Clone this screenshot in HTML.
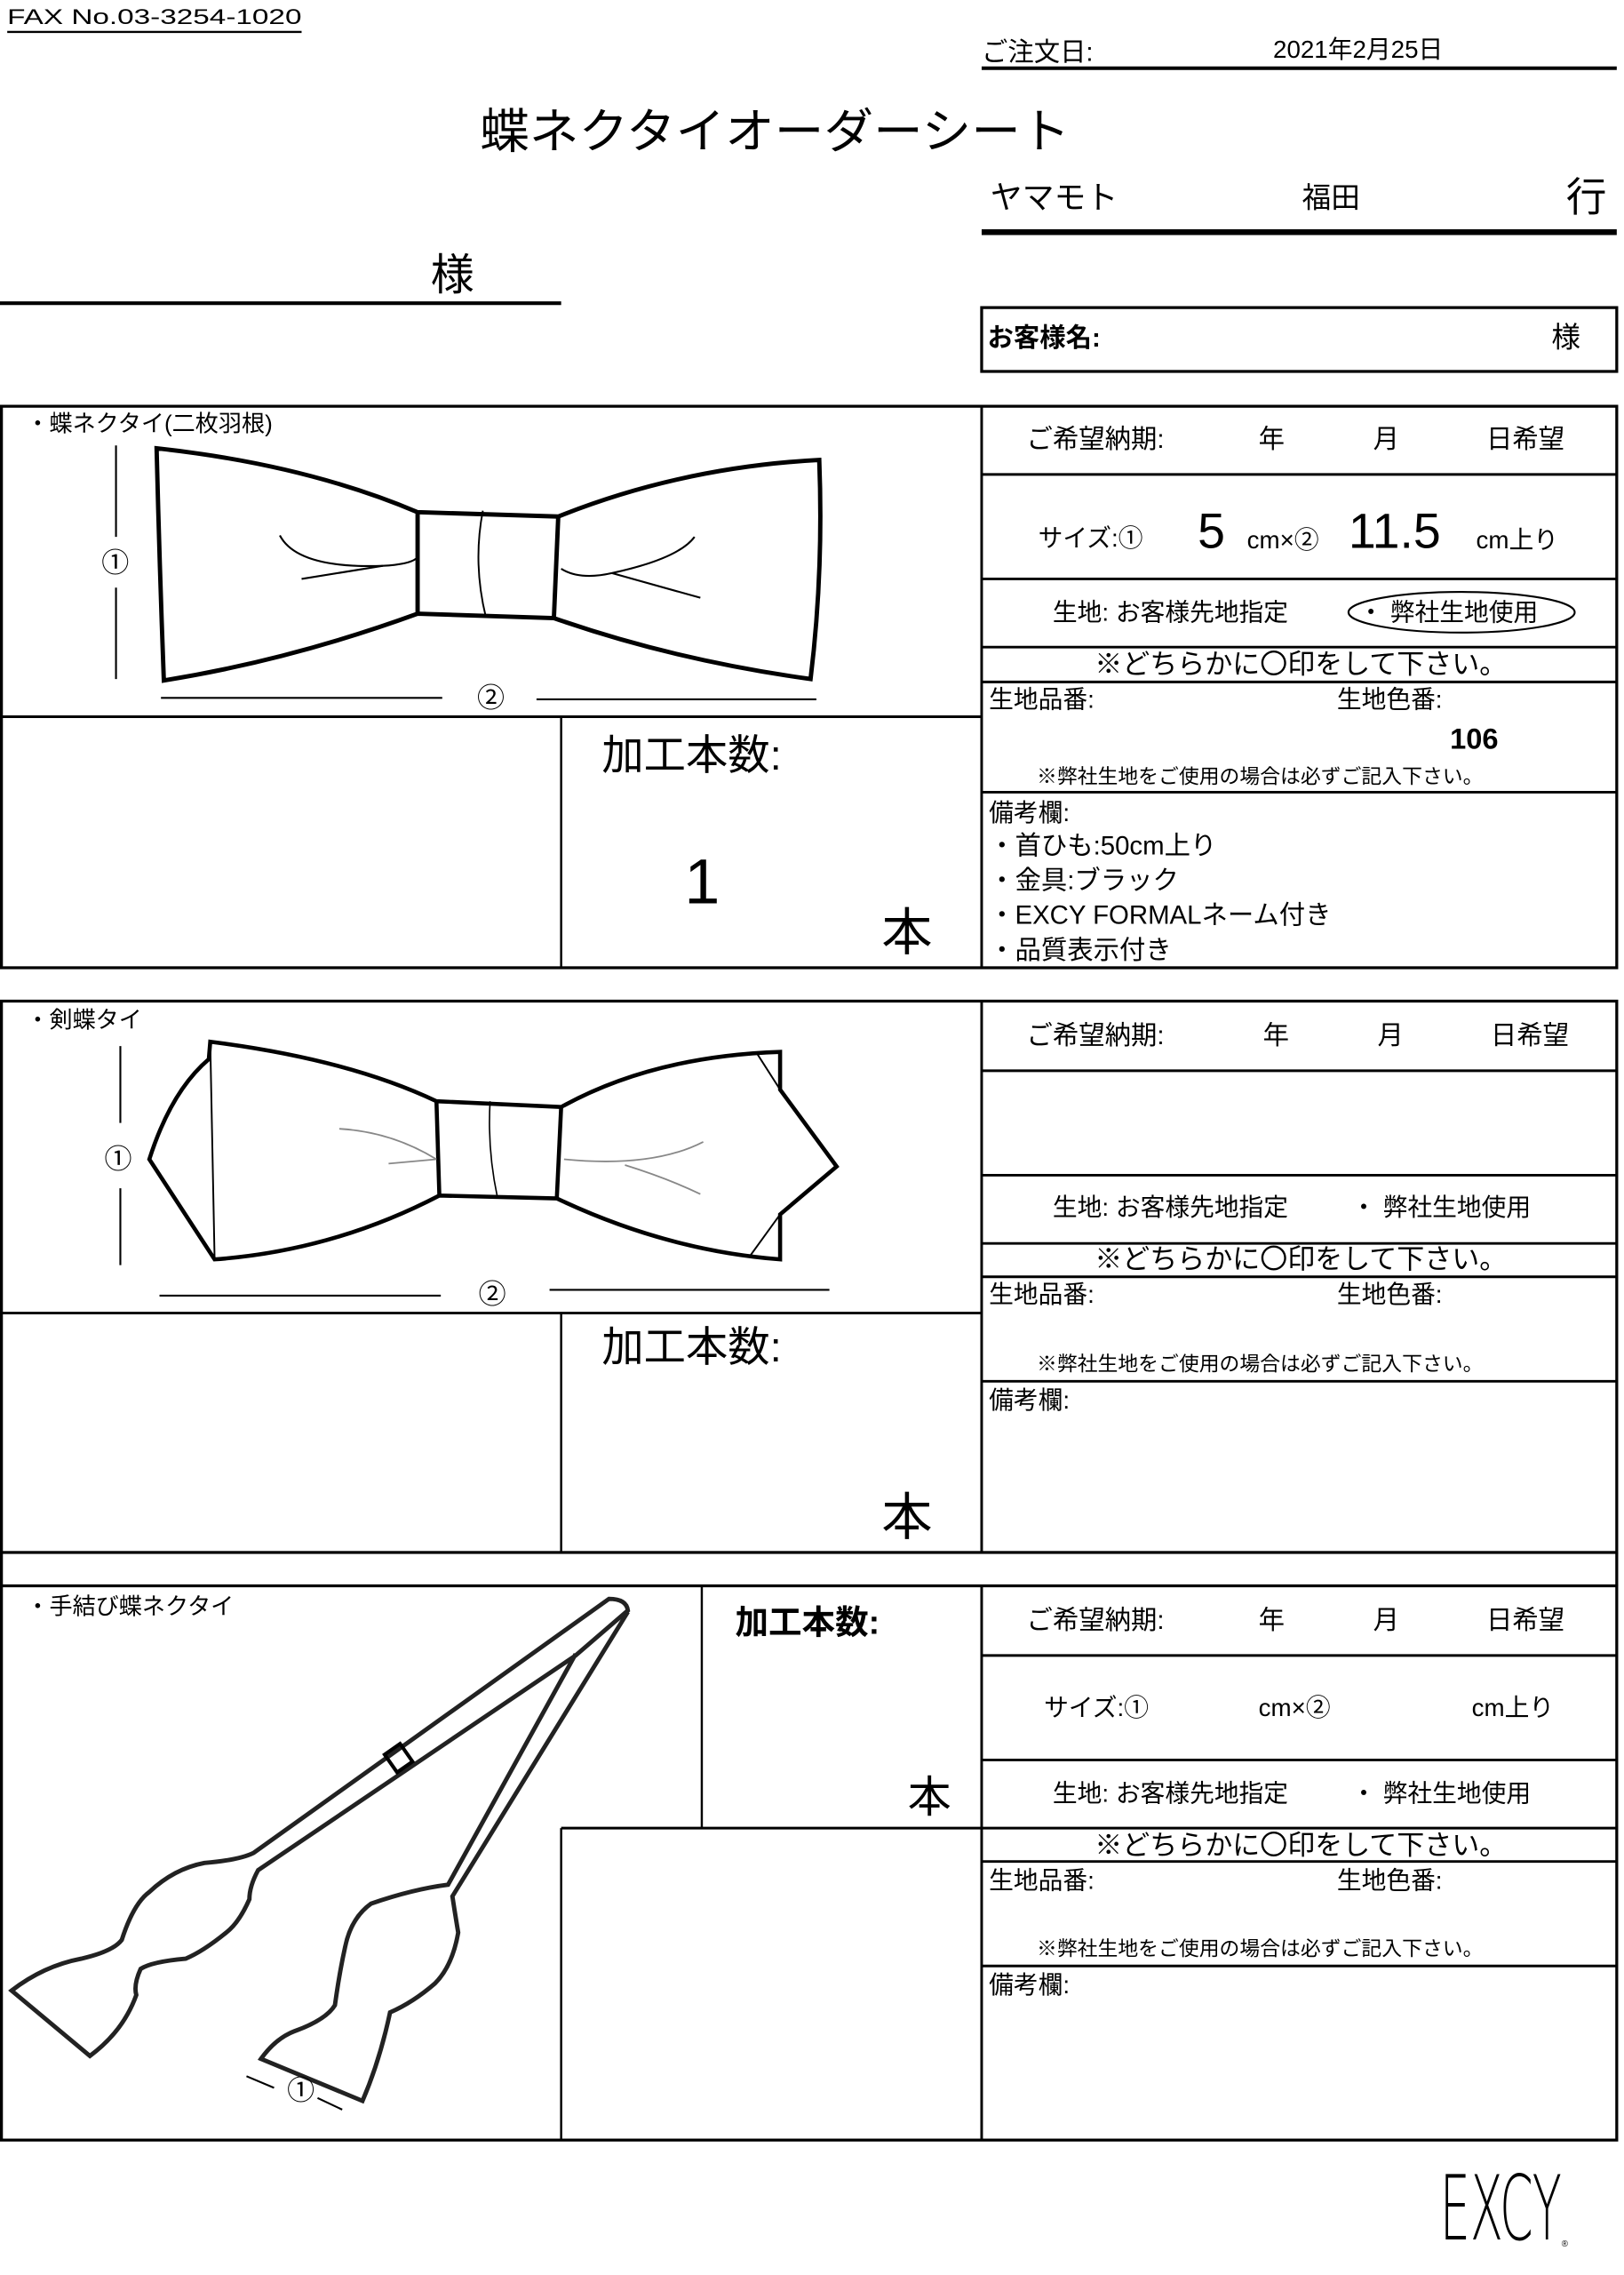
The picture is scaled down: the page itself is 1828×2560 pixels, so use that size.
<!DOCTYPE html>
<html><head><meta charset="utf-8"><style>
html,body{margin:0;padding:0;background:#fff}
svg{display:block}
text{font-family:"Liberation Sans","Noto Sans CJK JP",sans-serif;fill:#000;dominant-baseline:central}
</style></head><body>
<svg width="1828" height="2560" viewBox="0 0 1120 1568" preserveAspectRatio="none" xmlns="http://www.w3.org/2000/svg">
<g fill="none" stroke="#000">
<!-- header -->
<line x1="5" y1="22" x2="208" y2="22" stroke-width="1.5"/>
<line x1="677" y1="47" x2="1115" y2="47" stroke-width="2.5"/>
<line x1="677" y1="160" x2="1115" y2="160" stroke-width="4"/>
<line x1="0" y1="209" x2="387" y2="209" stroke-width="2.5"/>
<rect x="677" y="212" width="438" height="44" stroke-width="2"/>
<!-- section 1 -->
<rect x="1" y="280" width="1114" height="387" stroke-width="2"/>
<line x1="677" y1="280" x2="677" y2="667" stroke-width="1.8"/>
<line x1="0" y1="494" x2="677" y2="494" stroke-width="1.8"/>
<line x1="387" y1="494" x2="387" y2="667" stroke-width="1.5"/>
<line x1="677" y1="327" x2="1115" y2="327" stroke-width="1.8"/>
<line x1="677" y1="399" x2="1115" y2="399" stroke-width="1.8"/>
<line x1="677" y1="446" x2="1115" y2="446" stroke-width="1.8"/>
<line x1="677" y1="470" x2="1115" y2="470" stroke-width="1.8"/>
<line x1="677" y1="546" x2="1115" y2="546" stroke-width="1.8"/>
<ellipse cx="1008" cy="422" rx="78" ry="14" stroke-width="1.3"/>
<!-- bow 1 -->
<path d="M108,309 Q210,320 288,353 L385,356 Q470,322 565,317 Q568,395 559,468 Q465,455 382,426 L288,423 Q200,455 113,469 Q110,390 108,309 Z" stroke-width="3"/>
<line x1="288" y1="353" x2="288" y2="423" stroke-width="3"/>
<line x1="385" y1="356" x2="382" y2="426" stroke-width="3"/>
<path d="M333,352 Q326,388 335,425" stroke-width="1.2"/>
<path d="M193,369 Q205,392 264,390 Q282,389 287,385" stroke-width="1.3"/>
<line x1="208" y1="399" x2="264" y2="390" stroke-width="1.3"/>
<path d="M387,392 Q400,400 422,395 Q468,385 479,370" stroke-width="1.3"/>
<line x1="422" y1="395" x2="483" y2="412" stroke-width="1.3"/>
<line x1="80" y1="307" x2="80" y2="370" stroke-width="1.3"/>
<line x1="80" y1="405" x2="80" y2="468" stroke-width="1.3"/>
<line x1="111" y1="481" x2="305" y2="481" stroke-width="1.3"/>
<line x1="370" y1="482" x2="563" y2="482" stroke-width="1.3"/>
<!-- section 2 -->
<rect x="1" y="690" width="1114" height="380" stroke-width="2"/>
<line x1="677" y1="690" x2="677" y2="1070" stroke-width="1.8"/>
<line x1="0" y1="905" x2="677" y2="905" stroke-width="1.8"/>
<line x1="387" y1="905" x2="387" y2="1070" stroke-width="1.5"/>
<line x1="677" y1="738" x2="1115" y2="738" stroke-width="1.8"/>
<line x1="677" y1="810" x2="1115" y2="810" stroke-width="1.8"/>
<line x1="677" y1="857" x2="1115" y2="857" stroke-width="1.8"/>
<line x1="677" y1="880" x2="1115" y2="880" stroke-width="1.8"/>
<line x1="677" y1="952" x2="1115" y2="952" stroke-width="1.8"/>
<!-- spacer row -->
<line x1="1" y1="1070" x2="1" y2="1093" stroke-width="2"/>
<line x1="1115" y1="1070" x2="1115" y2="1093" stroke-width="2"/>
<!-- bow 2 -->
<path d="M145,718 Q240,730 301,759 L387,763 Q450,728 538,725 L538,751 L577,804 L538,837 L538,868 Q460,862 384,826 L303,824 Q230,862 148,868 L103,799 Q118,752 144,730 Z" stroke-width="2.8"/>
<line x1="301" y1="759" x2="303" y2="824" stroke-width="2.8"/>
<line x1="387" y1="763" x2="384" y2="826" stroke-width="2.8"/>
<line x1="145" y1="718" x2="148" y2="868" stroke-width="1.2"/>
<line x1="522" y1="726" x2="538" y2="751" stroke-width="1.2"/>
<line x1="517" y1="866" x2="538" y2="837" stroke-width="1.2"/>
<path d="M338,759 Q336,792 343,825" stroke-width="1"/>
<g stroke="#888" stroke-width="1.1">
<path d="M234,778 Q270,780 301,799"/>
<path d="M268,802 Q290,800 301,799"/>
<path d="M389,799 Q450,805 485,787"/>
<path d="M431,803 Q460,812 483,823"/>
</g>
<line x1="83" y1="721" x2="83" y2="774" stroke-width="1.3"/>
<line x1="83" y1="819" x2="83" y2="872" stroke-width="1.3"/>
<line x1="110" y1="893" x2="304" y2="893" stroke-width="1.3"/>
<line x1="379" y1="889" x2="572" y2="889" stroke-width="1.3"/>
<!-- section 3 -->
<rect x="1" y="1093" width="1114" height="382" stroke-width="2"/>
<line x1="677" y1="1093" x2="677" y2="1475" stroke-width="1.8"/>
<line x1="484" y1="1093" x2="484" y2="1260" stroke-width="1.5"/>
<line x1="387" y1="1260" x2="677" y2="1260" stroke-width="1.8"/>
<line x1="387" y1="1260" x2="387" y2="1475" stroke-width="1.5"/>
<line x1="677" y1="1141" x2="1115" y2="1141" stroke-width="1.8"/>
<line x1="677" y1="1213" x2="1115" y2="1213" stroke-width="1.8"/>
<line x1="677" y1="1260" x2="1115" y2="1260" stroke-width="1.8"/>
<line x1="677" y1="1283" x2="1115" y2="1283" stroke-width="1.8"/>
<line x1="677" y1="1355" x2="1115" y2="1355" stroke-width="1.8"/>
<!-- bow 3 -->
<path d="M420,1102 Q432,1102 433,1110 L397,1141 L178,1289 Q172,1300 172,1309 Q165,1325 156,1332 Q140,1345 128,1350 Q105,1352 97,1357 Q92,1368 94,1375 Q85,1400 62,1417 L8,1372 Q30,1355 56,1350 Q78,1345 84,1337 Q92,1312 103,1304 Q120,1288 141,1284 Q165,1282 175,1277 Z" stroke="#222" stroke-width="3"/>
<path d="M433,1111 L312,1307 Q314,1320 316,1332 Q312,1355 300,1367 Q285,1380 269,1387 Q262,1420 250,1448 L180,1419 Q190,1405 203,1400 Q225,1392 231,1382 Q234,1360 238,1342 Q242,1322 256,1312 Q285,1302 309,1299 L397,1140" stroke="#222" stroke-width="3"/>
<rect x="268" y="1204" width="13" height="15" transform="rotate(-35 275 1211)" stroke-width="2.5"/>
<line x1="170" y1="1431" x2="189" y2="1439" stroke-width="1.3"/>
<line x1="219" y1="1446" x2="236" y2="1454" stroke-width="1.3"/>
</g>
<!-- texts -->
<text x="5" y="12" font-size="15" textLength="203" lengthAdjust="spacingAndGlyphs">FAX No.03-3254-1020</text>
<text x="677" y="36" font-size="18">ご注文日:</text>
<text x="878" y="34" font-size="17">2021年2月25日</text>
<text x="331" y="91" font-size="33" textLength="407" lengthAdjust="spacingAndGlyphs">蝶ネクタイオーダーシート</text>
<text x="683" y="136" font-size="22">ヤマモト</text>
<text x="898" y="136" font-size="20">福田</text>
<text x="1080" y="136" font-size="28">行</text>
<text x="297" y="190" font-size="30">様</text>
<text x="681" y="233" font-size="18" font-weight="bold">お客様名:</text>
<text x="1070" y="232" font-size="20">様</text>

<text x="18" y="292" font-size="16">・蝶ネクタイ(二枚羽根)</text>
<text x="708" y="303" font-size="18">ご希望納期:</text>
<text x="868" y="303" font-size="18">年</text>
<text x="947" y="303" font-size="18">月</text>
<text x="1025" y="303" font-size="18">日希望</text>
<text x="716" y="371" font-size="17">サイズ:①</text>
<text x="826" y="366" font-size="34">5</text>
<text x="860" y="372" font-size="17">cm×②</text>
<text x="930" y="366" font-size="34">11.5</text>
<text x="1018" y="372" font-size="17">cm上り</text>
<text x="726" y="422" font-size="17">生地: お客様先地指定</text>
<text x="937" y="422" font-size="17">・ 弊社生地使用</text>
<text x="755" y="458" font-size="19">※どちらかに〇印をして下さい。</text>
<text x="682" y="482" font-size="17">生地品番:</text>
<text x="922" y="482" font-size="17">生地色番:</text>
<text x="1000" y="509" font-size="20" font-weight="bold">106</text>
<text x="715" y="535" font-size="14">※弊社生地をご使用の場合は必ずご記入下さい。</text>
<text x="682" y="560" font-size="17">備考欄:</text>
<text x="682" y="583" font-size="18">・首ひも:50cm上り</text>
<text x="682" y="607" font-size="18">・金具:ブラック</text>
<text x="682" y="631" font-size="18">・EXCY FORMALネーム付き</text>
<text x="682" y="655" font-size="18">・品質表示付き</text>
<text x="415" y="521" font-size="29">加工本数:</text>
<text x="472" y="608" font-size="44">1</text>
<text x="608" y="643" font-size="35">本</text>
<text x="70" y="388" font-size="19">①</text>
<text x="329" y="481" font-size="19">②</text>

<text x="18" y="703" font-size="16">・剣蝶タイ</text>
<text x="708" y="714" font-size="18">ご希望納期:</text>
<text x="871" y="714" font-size="18">年</text>
<text x="950" y="714" font-size="18">月</text>
<text x="1028" y="714" font-size="18">日希望</text>
<text x="726" y="832" font-size="17">生地: お客様先地指定</text>
<text x="932" y="832" font-size="17">・ 弊社生地使用</text>
<text x="755" y="868" font-size="19">※どちらかに〇印をして下さい。</text>
<text x="682" y="892" font-size="17">生地品番:</text>
<text x="922" y="892" font-size="17">生地色番:</text>
<text x="715" y="940" font-size="14">※弊社生地をご使用の場合は必ずご記入下さい。</text>
<text x="682" y="965" font-size="17">備考欄:</text>
<text x="415" y="929" font-size="29">加工本数:</text>
<text x="608" y="1046" font-size="35">本</text>
<text x="72" y="799" font-size="19">①</text>
<text x="330" y="892" font-size="19">②</text>

<text x="18" y="1107" font-size="16">・手結び蝶ネクタイ</text>
<text x="507" y="1118" font-size="23" font-weight="bold">加工本数:</text>
<text x="626" y="1239" font-size="30">本</text>
<text x="708" y="1117" font-size="18">ご希望納期:</text>
<text x="868" y="1117" font-size="18">年</text>
<text x="947" y="1117" font-size="18">月</text>
<text x="1025" y="1117" font-size="18">日希望</text>
<text x="720" y="1177" font-size="17">サイズ:①</text>
<text x="868" y="1177" font-size="17">cm×②</text>
<text x="1015" y="1177" font-size="17">cm上り</text>
<text x="726" y="1236" font-size="17">生地: お客様先地指定</text>
<text x="932" y="1236" font-size="17">・ 弊社生地使用</text>
<text x="755" y="1272" font-size="19">※どちらかに〇印をして下さい。</text>
<text x="682" y="1296" font-size="17">生地品番:</text>
<text x="922" y="1296" font-size="17">生地色番:</text>
<text x="715" y="1343" font-size="14">※弊社生地をご使用の場合は必ずご記入下さい。</text>
<text x="682" y="1368" font-size="17">備考欄:</text>
<text x="198" y="1441" font-size="19">①</text>

<text x="993" y="1522" font-size="62" textLength="84" lengthAdjust="spacingAndGlyphs" style="font-family:'DejaVu Sans',sans-serif;font-weight:200">EXCY</text>
<text x="1077" y="1547" font-size="6">®</text>
</svg>
</body></html>
